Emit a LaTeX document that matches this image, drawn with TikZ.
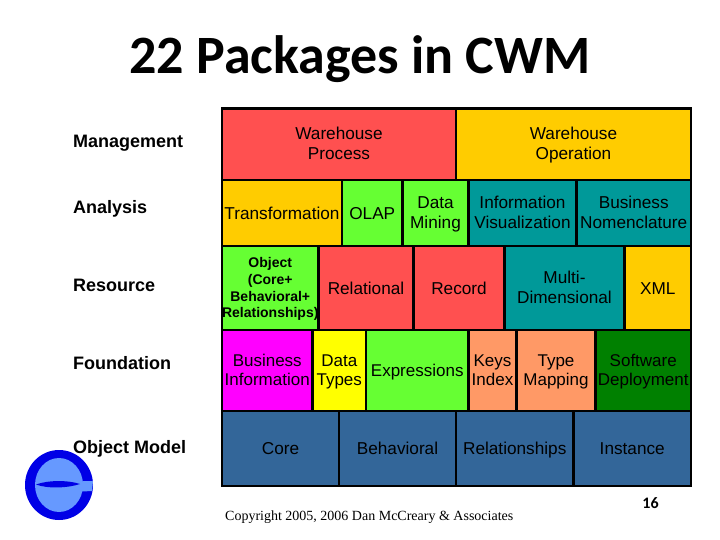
\documentclass[tikz,border=0pt]{standalone}
\usepackage{fontspec}
\setmainfont{Liberation Sans}
\newfontfamily\titlefont{Carlito}
\newfontfamily\copyfont{Liberation Serif}
\definecolor{cellred}{HTML}{FF5050}
\definecolor{cellgold}{HTML}{FFCC00}
\definecolor{cellgreen}{HTML}{66FF33}
\definecolor{cellteal}{HTML}{009999}
\definecolor{cellorange}{HTML}{FF9966}
\definecolor{celldark}{HTML}{008000}
\definecolor{cellblue}{HTML}{336699}
\definecolor{cellpink}{HTML}{FF00FF}
\definecolor{cellyellow}{HTML}{FFFF00}
\definecolor{logoblue}{HTML}{0000E6}
\definecolor{logolight}{HTML}{6699FF}
\tikzset{
  cell/.style={draw=black,line width=2.75pt},
  celltext/.style={align=center,inner sep=0pt,yshift=-2.2pt,font=\fontsize{17.2}{20}\selectfont,execute at begin node=\strut,execute at end node=\strut},
  layer/.style={anchor=west,inner sep=0pt,yshift=-2.5pt,font=\fontsize{18}{20}\selectfont\bfseries,execute at begin node=\strut}
}
\begin{document}
\begin{tikzpicture}[x=1pt,y=-1pt]
  \useasboundingbox (0,0) rectangle (720,540);
  \node[anchor=center,inner sep=0pt,font=\fontsize{54}{55}\selectfont\titlefont\bfseries] (title) at (360,59) {22 Packages in CWM};
  % layer names
  \foreach \y/\name/\txt in {141/mgmt/Management,207/analysis/Analysis,285/resource/Resource,363/foundation/Foundation,447/objmodel/Object Model} {
    \node[layer] (\name) at (73,\y) {\txt};
  }
  % management
  \foreach \xa/\xb/\col/\name/\txt in {222/456/cellred/whprocess/{Warehouse\\Process},456/691/cellgold/whoperation/{Warehouse\\Operation}} {
    \draw[cell,fill=\col] (\xa,108.5) rectangle node[celltext] (\name) {\txt} (\xb,180);
  }
  % analysis
  \foreach \xa/\xb/\col/\name/\txt in {222/342/cellgold/transformation/Transformation,342/402.5/cellgreen/olap/OLAP,402.5/468.5/cellgreen/datamining/{Data\\Mining},468.5/576.5/cellteal/infovis/{Information\\Visualization},576.5/691/cellteal/nomenclature/{Business\\Nomenclature}} {
    \draw[cell,fill=\col] (\xa,180) rectangle node[celltext] (\name) {\txt} (\xb,246);
  }
  % resource
  \foreach \xa/\xb/\col/\name/\txt in {318.5/413.5/cellred/relational/Relational,413.5/504.5/cellred/record/Record,504.5/624.5/cellteal/multidim/{Multi-\\Dimensional},624.5/691/cellgold/xml/XML} {
    \draw[cell,fill=\col] (\xa,246) rectangle node[celltext] (\name) {\txt} (\xb,330);
  }
  \draw[cell,fill=cellgreen] (222,246) rectangle node[celltext,font=\fontsize{14}{16.7}\selectfont\bfseries] (object) {Object\\(Core+\\Behavioral+\\Relationships)} (318.5,330);
  % foundation
  \foreach \xa/\xb/\col/\name/\txt in {222/312.5/cellpink/businfo/{Business\\Information},312.5/366/cellyellow/datatypes/{Data\\Types},366/468.5/cellgreen/expressions/Expressions,468.5/516.5/cellorange/keysindex/{Keys\\Index},516.5/595.5/cellorange/typemapping/{Type\\Mapping},595.5/691/celldark/deployment/{Software\\Deployment}} {
    \draw[cell,fill=\col] (\xa,330) rectangle node[celltext,font=\fontsize{17}{19}\selectfont] (\name) {\txt} (\xb,411);
  }
  % object model
  \foreach \xa/\xb/\name/\txt in {222/339/core/Core,339/456/behavioral/Behavioral,456/573.5/relationships/Relationships,573.5/691/instance/Instance} {
    \draw[cell,fill=cellblue] (\xa,411) rectangle node[celltext] (\name) {\txt} (\xb,486);
  }
  % logo
  \fill[logoblue] (59,485) ellipse (34 and 35);
  \fill[logolight] (59,485) ellipse (24 and 27);
  \fill[logolight] (72,481.5) -- (93,481) -- (92,491) -- (72,492) -- cycle;
  \fill[logoblue] (36,484.5) .. controls (48,480) and (68,480) .. (80,484) .. controls (68,488) and (48,489) .. (36,484.5) -- cycle;
  % footer
  \node[anchor=west,inner sep=0pt,font=\fontsize{14}{16}\selectfont\copyfont] (copyright) at (225,517) {Copyright 2005, 2006 Dan McCreary \& Associates};
  \node[inner sep=0pt,font=\fontsize{16}{18}\selectfont\titlefont\bfseries] (pagenum) at (650.5,503.5) {16};
\end{tikzpicture}
\end{document}
